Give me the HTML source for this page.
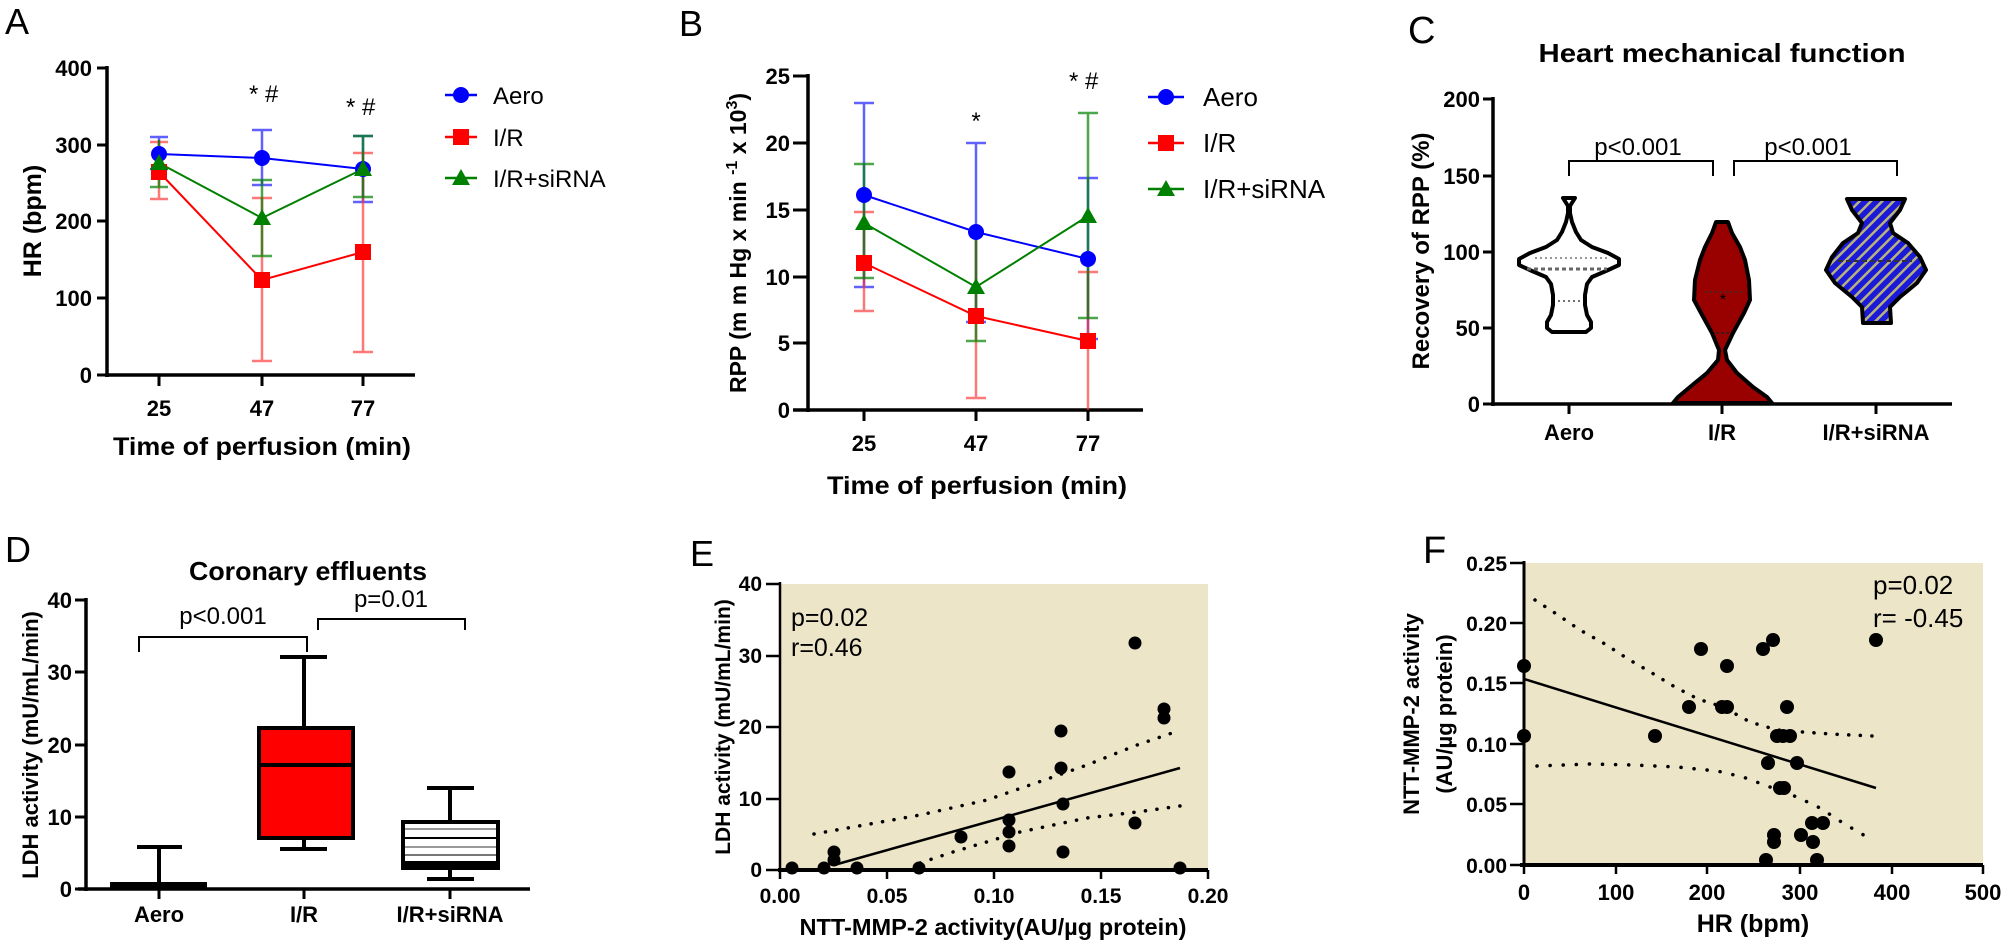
<!DOCTYPE html>
<html><head><meta charset="utf-8">
<style>
html,body{margin:0;padding:0;background:#fff;}
svg{display:block;font-family:"Liberation Sans",Arial,sans-serif;}
.b{font-weight:bold;}
</style></head><body>
<svg width="2006" height="948" viewBox="0 0 2006 948" xmlns="http://www.w3.org/2000/svg">
<defs>
<pattern id="hatch" patternUnits="userSpaceOnUse" width="8" height="8" patternTransform="rotate(45)">
<rect width="8" height="8" fill="#1a1ad8"/>
<rect x="0" y="0" width="2.5" height="8" fill="#b9b27a"/>
</pattern>
</defs>
<rect width="2006" height="948" fill="#fff"/>

<!-- ============ PANEL A ============ -->
<text x="5" y="34" font-size="36">A</text>
<g stroke="#000" fill="none">
<path stroke-width="3.5" d="M107,66 V377 M105,375 H415"/>
<path stroke-width="3" d="M97,68 H107 M97,145 H107 M97,221 H107 M97,298 H107 M97,375 H107 M159,375 V386 M262,375 V386 M363,375 V386"/>
</g>
<g class="b" font-size="22" text-anchor="end">
<text x="92" y="76">400</text><text x="92" y="153">300</text><text x="92" y="229">200</text><text x="92" y="306">100</text><text x="92" y="383">0</text>
</g>
<g class="b" font-size="22" text-anchor="middle">
<text x="159" y="416">25</text><text x="262" y="416">47</text><text x="363" y="416">77</text>
</g>
<text x="262" y="455" class="b" font-size="25" text-anchor="middle" textLength="298" lengthAdjust="spacingAndGlyphs">Time of perfusion (min)</text>
<text transform="translate(41,221) rotate(-90)" class="b" font-size="25" text-anchor="middle">HR (bpm)</text>
<!-- error bars A -->
<g stroke-width="2.5" fill="none">
<path stroke="#3a3aff" stroke-opacity="0.8" d="M159,137 V169 M150,137 H168 M150,169 H168 M262,130 V185 M252,130 H272 M252,185 H272 M363,136 V202 M353,136 H373 M353,202 H373"/>
<path stroke="#ff3030" stroke-opacity="0.65" d="M159,142 V199 M150,142 H168 M150,199 H168 M262,198 V361 M252,198 H272 M252,361 H272 M363,153 V352 M353,153 H373 M353,352 H373"/>
<path stroke="#008000" stroke-opacity="0.7" d="M159,140 V187 M150,187 H168 M262,180 V256 M252,180 H272 M252,256 H272 M363,136 V197 M353,136 H373 M353,197 H373"/>
</g>
<g fill="none" stroke-width="2">
<polyline stroke="#0000ff" points="159,154 262,158 363,169"/>
<polyline stroke="#ff0000" points="159,172 262,280 363,252"/>
<polyline stroke="#008000" points="159,163 262,218 363,169"/>
</g>
<g fill="#0000ff"><circle cx="159" cy="154" r="8"/><circle cx="262" cy="158" r="8"/><circle cx="363" cy="169" r="8"/></g>
<g fill="#ff0000"><rect x="151" y="164" width="16" height="16"/><rect x="254" y="272" width="16" height="16"/><rect x="355" y="244" width="16" height="16"/></g>
<g fill="#008000"><polygon points="159,154 150,170 168,170"/><polygon points="262,209 253,225 271,225"/><polygon points="363,160 354,176 372,176"/></g>
<text x="249" y="102" font-size="24">* #</text>
<text x="346" y="115" font-size="24">* #</text>
<!-- legend A -->
<g stroke-width="2.5">
<line x1="445" y1="95" x2="477" y2="95" stroke="#0000ff"/>
<line x1="445" y1="137" x2="477" y2="137" stroke="#ff0000"/>
<line x1="445" y1="178" x2="477" y2="178" stroke="#008000"/>
</g>
<circle cx="461" cy="95" r="8" fill="#0000ff"/>
<rect x="453" y="129" width="16" height="16" fill="#ff0000"/>
<polygon points="461,169 452,185 470,185" fill="#008000"/>
<g font-size="24">
<text x="493" y="104">Aero</text><text x="493" y="146">I/R</text><text x="493" y="187">I/R+siRNA</text>
</g>

<!-- ============ PANEL B ============ -->
<text x="679" y="36" font-size="36">B</text>
<g stroke="#000" fill="none">
<path stroke-width="3.5" d="M808,74 V412 M793,410 H1143"/>
<path stroke-width="3" d="M793,76 H808 M793,143 H808 M793,210 H808 M793,277 H808 M793,343 H808 M864,410 V421 M976,410 V421 M1088,410 V421"/>
</g>
<g class="b" font-size="22" text-anchor="end">
<text x="790" y="84">25</text><text x="790" y="151">20</text><text x="790" y="218">15</text><text x="790" y="285">10</text><text x="790" y="351">5</text><text x="790" y="418">0</text>
</g>
<g class="b" font-size="22" text-anchor="middle">
<text x="864" y="451">25</text><text x="976" y="451">47</text><text x="1088" y="451">77</text>
</g>
<text x="977" y="494" class="b" font-size="25" text-anchor="middle" textLength="300" lengthAdjust="spacingAndGlyphs">Time of perfusion (min)</text>
<text transform="translate(746,243) rotate(-90)" class="b" font-size="23" text-anchor="middle">RPP (m m Hg x min <tspan font-size="16" dy="-9">-1</tspan><tspan dy="9"> x 10</tspan><tspan font-size="16" dy="-9">3</tspan><tspan dy="9">)</tspan></text>
<g stroke-width="2.5" fill="none">
<path stroke="#3a3aff" stroke-opacity="0.8" d="M864,103 V287 M854,103 H874 M854,287 H874 M976,143 V322 M966,143 H986 M966,322 H986 M1088,178 V339 M1078,178 H1098 M1078,339 H1098"/>
<path stroke="#ff3030" stroke-opacity="0.65" d="M864,212 V311 M854,212 H874 M854,311 H874 M976,236 V398 M966,398 H986 M1088,272 V410 M1078,272 H1098"/>
<path stroke="#008000" stroke-opacity="0.7" d="M864,164 V278 M854,164 H874 M854,278 H874 M976,234 V341 M966,341 H986 M1088,113 V318 M1078,113 H1098 M1078,318 H1098"/>
</g>
<g fill="none" stroke-width="2">
<polyline stroke="#0000ff" points="864,195 976,232 1088,259"/>
<polyline stroke="#ff0000" points="864,263 976,316 1088,341"/>
<polyline stroke="#008000" points="864,223 976,287 1088,216"/>
</g>
<g fill="#0000ff"><circle cx="864" cy="195" r="8"/><circle cx="976" cy="232" r="8"/><circle cx="1088" cy="259" r="8"/></g>
<g fill="#ff0000"><rect x="856" y="255" width="16" height="16"/><rect x="968" y="308" width="16" height="16"/><rect x="1080" y="333" width="16" height="16"/></g>
<g fill="#008000"><polygon points="864,214 855,230 873,230"/><polygon points="976,278 967,294 985,294"/><polygon points="1088,207 1079,223 1097,223"/></g>
<text x="976" y="129" font-size="24" text-anchor="middle">*</text>
<text x="1069" y="89" font-size="24">* #</text>
<g stroke-width="2.5">
<line x1="1148" y1="97" x2="1184" y2="97" stroke="#0000ff"/>
<line x1="1148" y1="143" x2="1184" y2="143" stroke="#ff0000"/>
<line x1="1148" y1="189" x2="1184" y2="189" stroke="#008000"/>
</g>
<circle cx="1166" cy="97" r="8" fill="#0000ff"/>
<rect x="1158" y="135" width="16" height="16" fill="#ff0000"/>
<polygon points="1166,180 1157,196 1175,196" fill="#008000"/>
<g font-size="26">
<text x="1203" y="106">Aero</text><text x="1203" y="152">I/R</text><text x="1203" y="198">I/R+siRNA</text>
</g>

<!-- ============ PANEL C ============ -->
<text x="1408" y="43" font-size="38">C</text>
<text x="1722" y="62" class="b" font-size="26" text-anchor="middle" textLength="367" lengthAdjust="spacingAndGlyphs">Heart mechanical function</text>
<g stroke="#000" fill="none">
<path stroke-width="3.5" d="M1493,97 V406 M1491,404 H1952"/>
<path stroke-width="3" d="M1483,99 H1493 M1483,176 H1493 M1483,252 H1493 M1483,328 H1493 M1483,404 H1493 M1569,404 V414 M1722,404 V414 M1876,404 V414"/>
<path stroke-width="2" d="M1569,176 V161 H1713 V176 M1734,176 V161 H1897 V176"/>
</g>
<g class="b" font-size="22" text-anchor="end">
<text x="1480" y="107">200</text><text x="1480" y="184">150</text><text x="1480" y="260">100</text><text x="1480" y="336">50</text><text x="1480" y="412">0</text>
</g>
<g class="b" font-size="22" text-anchor="middle">
<text x="1569" y="440">Aero</text><text x="1722" y="440">I/R</text><text x="1876" y="440">I/R+siRNA</text>
</g>
<text transform="translate(1429,251) rotate(-90)" class="b" font-size="24" text-anchor="middle">Recovery of RPP (%)</text>
<g font-size="24" text-anchor="middle"><text x="1638" y="155">p&lt;0.001</text><text x="1808" y="155">p&lt;0.001</text></g>
<g stroke="#000" stroke-width="4" stroke-linejoin="round">
<polygon fill="#fff" points="1575,198 1570,206 1570,213 1572,222 1576,232 1581,240 1592,247 1608,253 1619,259 1619,265 1606,271 1592,277 1587,284 1585,295 1585,305 1587,315 1591,322 1591,328 1586,332 1552,332 1547,328 1547,322 1551,315 1553,305 1553,295 1551,284 1546,277 1532,271 1519,265 1519,259 1530,253 1546,247 1557,240 1562,232 1566,222 1568,213 1568,206 1563,198"/>
<polygon fill="#990000" points="1728,222 1732,233 1740,247 1745,260 1749,280 1750,300 1744,313 1733,333 1725,350 1727,360 1737,373 1753,387 1767,397 1772,403 1673,403 1678,397 1690,387 1707,373 1718,360 1719,350 1712,333 1701,313 1694,300 1695,280 1700,260 1705,247 1712,233 1716,222"/>
<polygon fill="url(#hatch)" points="1905,199 1900,210 1890,223 1893,233 1908,243 1920,257 1926,270 1917,283 1900,297 1890,307 1891,323 1863,323 1862,307 1852,297 1835,283 1826,270 1832,257 1843,243 1858,233 1862,223 1852,210 1847,199"/>
</g>
<g fill="none">
<line x1="1535" y1="258" x2="1610" y2="258" stroke="#777" stroke-width="1.5" stroke-dasharray="2 3"/>
<line x1="1527" y1="269" x2="1607" y2="269" stroke="#666" stroke-width="3" stroke-dasharray="4 3"/>
<line x1="1558" y1="301" x2="1582" y2="301" stroke="#444" stroke-width="1.5" stroke-dasharray="2 3"/>
<line x1="1705" y1="292" x2="1742" y2="292" stroke="#333" stroke-width="1.5" stroke-dasharray="2 3"/>
<line x1="1716" y1="333" x2="1731" y2="333" stroke="#222" stroke-width="1.5" stroke-dasharray="3 2"/>
<line x1="1838" y1="261" x2="1912" y2="261" stroke="#333" stroke-width="2" stroke-dasharray="5 3"/>
</g>
<text x="1723" y="305" font-size="16" text-anchor="middle">*</text>

<!-- ============ PANEL D ============ -->
<text x="5" y="562" font-size="36">D</text>
<text x="308" y="580" class="b" font-size="26" text-anchor="middle" textLength="238" lengthAdjust="spacingAndGlyphs">Coronary effluents</text>
<g stroke="#000" fill="none">
<path stroke-width="3.5" d="M86,598 V891 M78,889 H530"/>
<path stroke-width="3" d="M75,600 H86 M75,672 H86 M75,745 H86 M75,817 H86 M75,889 H86 M159,889 V899 M304,889 V899 M450,889 V899"/>
<path stroke-width="2" d="M139,652 V637 H307 V652 M318,630 V619 H465 V630"/>
</g>
<g class="b" font-size="22" text-anchor="end">
<text x="72" y="608">40</text><text x="72" y="680">30</text><text x="72" y="753">20</text><text x="72" y="825">10</text><text x="72" y="897">0</text>
</g>
<g class="b" font-size="22" text-anchor="middle">
<text x="159" y="922">Aero</text><text x="304" y="922">I/R</text><text x="450" y="922">I/R+siRNA</text>
</g>
<text transform="translate(38,745) rotate(-90)" class="b" font-size="22" text-anchor="middle">LDH activity (mU/mL/min)</text>
<g font-size="24" text-anchor="middle"><text x="223" y="624">p&lt;0.001</text><text x="391" y="607">p=0.01</text></g>
<g stroke="#000" stroke-width="4" fill="none">
<path d="M159,884 V847 M137,847 H182"/>
<path d="M304,728 V657 M280,657 H327 M304,838 V849 M280,849 H327"/>
<path d="M450,822 V788 M427,788 H474 M450,868 V879 M427,879 H474"/>
</g>
<rect x="110" y="882" width="97" height="7" fill="#000"/>
<rect x="259" y="728" width="94" height="110" fill="#ff0000" stroke="#000" stroke-width="4"/>
<line x1="259" y1="765" x2="353" y2="765" stroke="#000" stroke-width="4"/>
<rect x="403" y="822" width="95" height="46" fill="#fff" stroke="#000" stroke-width="4"/>
<g stroke-width="2">
<line x1="405" y1="829" x2="496" y2="829" stroke="#999"/>
<line x1="405" y1="838" x2="496" y2="838" stroke="#000"/>
<line x1="405" y1="847" x2="496" y2="847" stroke="#999"/>
<line x1="405" y1="855" x2="496" y2="855" stroke="#777"/>
</g>
<rect x="403" y="861" width="95" height="7" fill="#000"/>

<!-- ============ PANEL E ============ -->
<text x="690" y="566" font-size="36">E</text>
<rect x="780" y="584" width="428" height="286" fill="#ece5c8"/>
<g stroke="#000" fill="none">
<path stroke-width="2.5" d="M780,582 V871"/>
<path stroke-width="4" d="M778,870 H1208"/>
<path stroke-width="2.5" d="M766,584 H780 M766,656 H780 M766,727 H780 M766,799 H780 M766,870 H780 M780,870 V879 M887,870 V879 M994,870 V879 M1101,870 V879 M1208,870 V879"/>
</g>
<g class="b" font-size="21" text-anchor="end">
<text x="762" y="591">40</text><text x="762" y="663">30</text><text x="762" y="734">20</text><text x="762" y="806">10</text><text x="762" y="877">0</text>
</g>
<g class="b" font-size="21" text-anchor="middle">
<text x="780" y="903">0.00</text><text x="887" y="903">0.05</text><text x="994" y="903">0.10</text><text x="1101" y="903">0.15</text><text x="1208" y="903">0.20</text>
</g>
<text x="993" y="935" class="b" font-size="23" text-anchor="middle" textLength="387" lengthAdjust="spacingAndGlyphs">NTT-MMP-2 activity(AU/µg protein)</text>
<text transform="translate(730,727) rotate(-90)" class="b" font-size="21" text-anchor="middle">LDH activity (mU/mL/min)</text>
<g font-size="25"><text x="791" y="626">p=0.02</text><text x="791" y="656">r=0.46</text></g>
<g fill="none" stroke="#000">
<line x1="834" y1="865" x2="1180" y2="768" stroke-width="2.5"/>
<polyline stroke-width="3.5" stroke-linecap="round" stroke-dasharray="0.1 11.5" points="814,834 920,815 987,800 1053,777 1087,765 1137,745 1175,732"/>
<polyline stroke-width="3.5" stroke-linecap="round" stroke-dasharray="0.1 11.5" points="920,863 953,852 1020,832 1087,818 1137,812 1180,806"/>
</g>
<g fill="#000">
<circle cx="792" cy="868" r="6.5"/><circle cx="824" cy="868" r="6.5"/><circle cx="834" cy="852" r="6.5"/><circle cx="834" cy="860" r="6.5"/><circle cx="857" cy="868" r="6.5"/><circle cx="919" cy="868" r="6.5"/><circle cx="961" cy="837" r="6.5"/><circle cx="1009" cy="772" r="6.5"/><circle cx="1009" cy="820" r="6.5"/><circle cx="1009" cy="832" r="6.5"/><circle cx="1009" cy="846" r="6.5"/><circle cx="1061" cy="731" r="6.5"/><circle cx="1061" cy="768" r="6.5"/><circle cx="1063" cy="804" r="6.5"/><circle cx="1063" cy="852" r="6.5"/><circle cx="1135" cy="643" r="6.5"/><circle cx="1135" cy="823" r="6.5"/><circle cx="1164" cy="709" r="6.5"/><circle cx="1164" cy="718" r="6.5"/><circle cx="1180" cy="868" r="6.5"/>
</g>

<!-- ============ PANEL F ============ -->
<text x="1423" y="563" font-size="38">F</text>
<rect x="1524" y="563" width="459" height="302" fill="#ece5c8"/>
<g stroke="#000" fill="none">
<path stroke-width="3" d="M1524,561 V867"/>
<path stroke-width="4" d="M1520,865 H1983"/>
<path stroke-width="2.5" d="M1510,563 H1524 M1510,623 H1524 M1510,683 H1524 M1510,744 H1524 M1510,804 H1524 M1510,865 H1524 M1524,865 V874 M1616,865 V874 M1707,865 V874 M1800,865 V874 M1892,865 V874 M1983,865 V874"/>
</g>
<g class="b" font-size="21" text-anchor="end">
<text x="1507" y="571">0.25</text><text x="1507" y="631">0.20</text><text x="1507" y="691">0.15</text><text x="1507" y="752">0.10</text><text x="1507" y="812">0.05</text><text x="1507" y="873">0.00</text>
</g>
<g class="b" font-size="22" text-anchor="middle">
<text x="1524" y="900">0</text><text x="1616" y="900">100</text><text x="1707" y="900">200</text><text x="1800" y="900">300</text><text x="1892" y="900">400</text><text x="1983" y="900">500</text>
</g>
<text x="1753" y="932" class="b" font-size="25" text-anchor="middle">HR (bpm)</text>
<text transform="translate(1419,714) rotate(-90)" class="b" font-size="22" text-anchor="middle">NTT-MMP-2 activity</text>
<text transform="translate(1452,714) rotate(-90)" class="b" font-size="22" text-anchor="middle">(AU/µg protein)</text>
<g font-size="26"><text x="1873" y="594">p=0.02</text><text x="1873" y="627">r= -0.45</text></g>
<g fill="none" stroke="#000">
<line x1="1524" y1="679" x2="1876" y2="788" stroke-width="2.5"/>
<polyline stroke-width="3.5" stroke-linecap="round" stroke-dasharray="0.1 11.5" points="1535,600 1558,615 1580,630 1605,644 1628,659 1652,673 1675,687 1698,699 1723,707 1750,722 1777,730 1803,732 1830,734 1873,736"/>
<polyline stroke-width="3.5" stroke-linecap="round" stroke-dasharray="0.1 13" points="1537,766 1590,764 1633,765 1677,767 1717,771 1743,777 1770,787 1797,797 1820,808 1843,823 1867,837"/>
</g>
<g fill="#000">
<circle cx="1524" cy="666" r="7"/><circle cx="1524" cy="736" r="7"/><circle cx="1655" cy="736" r="7"/><circle cx="1689" cy="707" r="7"/><circle cx="1701" cy="649" r="7"/><circle cx="1722" cy="707" r="7"/><circle cx="1727" cy="707" r="7"/><circle cx="1727" cy="666" r="7"/><circle cx="1763" cy="649" r="7"/><circle cx="1773" cy="640" r="7"/><circle cx="1787" cy="707" r="7"/><circle cx="1777" cy="736" r="7"/><circle cx="1783" cy="736" r="7"/><circle cx="1790" cy="736" r="7"/><circle cx="1768" cy="763" r="7"/><circle cx="1797" cy="763" r="7"/><circle cx="1780" cy="788" r="7"/><circle cx="1784" cy="788" r="7"/><circle cx="1812" cy="823" r="7"/><circle cx="1823" cy="823" r="7"/><circle cx="1801" cy="835" r="7"/><circle cx="1774" cy="835" r="7"/><circle cx="1774" cy="842" r="7"/><circle cx="1813" cy="842" r="7"/><circle cx="1766" cy="860" r="7"/><circle cx="1817" cy="860" r="7"/><circle cx="1876" cy="640" r="7"/>
</g>
</svg>
</body></html>
